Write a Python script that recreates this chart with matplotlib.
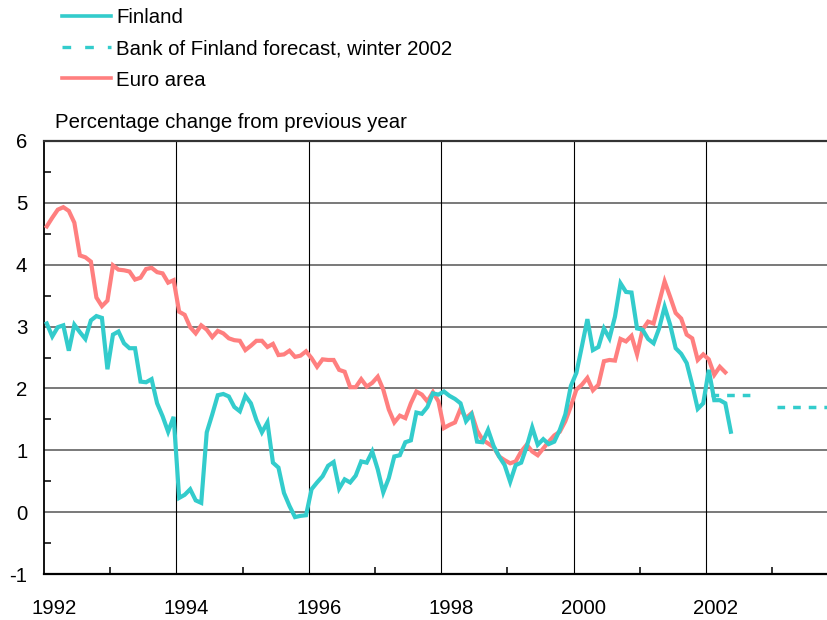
import matplotlib
matplotlib.use('Agg')
import matplotlib.pyplot as plt
from matplotlib.lines import Line2D
from matplotlib.ticker import MultipleLocator, FixedLocator
from matplotlib.transforms import ScaledTranslation
import numpy as np

plt.rcParams['font.family'] = 'Liberation Sans'
plt.rcParams['axes.unicode_minus'] = False

# Monthly inflation, % change from previous year, Jan 1992 ->
finland = [
    3.05, 2.84, 2.99, 3.02, 2.61, 3.03, 2.91, 2.80, 3.10, 3.17, 3.14, 2.31,
    2.87, 2.92, 2.73, 2.65, 2.65, 2.11, 2.10, 2.15, 1.76, 1.55, 1.30, 1.54,
    0.23, 0.28, 0.37, 0.19, 0.15, 1.29, 1.58, 1.89, 1.91, 1.87, 1.70, 1.63,
    1.88, 1.76, 1.49, 1.29, 1.45, 0.80, 0.72, 0.31, 0.10, -0.08, -0.06, -0.05,
    0.37, 0.48, 0.58, 0.75, 0.81, 0.38, 0.53, 0.48, 0.59, 0.82, 0.80, 0.98,
    0.69, 0.32, 0.55, 0.90, 0.92, 1.13, 1.16, 1.61, 1.59, 1.70, 1.92, 1.90,
    1.95, 1.88, 1.83, 1.76, 1.47, 1.58, 1.14, 1.13, 1.33, 1.07, 0.90, 0.76,
    0.49, 0.76, 0.80, 1.06, 1.37, 1.09, 1.18, 1.10, 1.14, 1.33, 1.58, 2.04,
    2.25, 2.68, 3.12, 2.62, 2.67, 2.97, 2.81, 3.16, 3.70, 3.56, 3.55, 2.97,
    2.95, 2.80, 2.73, 2.97, 3.32, 3.03, 2.65, 2.56, 2.41, 2.06, 1.67, 1.76,
    2.30, 1.81, 1.81, 1.76, 1.30,
]
euro = [
    4.62, 4.76, 4.89, 4.93, 4.87, 4.68, 4.15, 4.12, 4.05, 3.47, 3.33, 3.42,
    3.99, 3.92, 3.91, 3.89, 3.76, 3.79, 3.93, 3.95, 3.88, 3.86, 3.71, 3.75,
    3.24, 3.19, 2.99, 2.89, 3.02, 2.95, 2.83, 2.93, 2.89, 2.81, 2.78, 2.77,
    2.62, 2.69, 2.77, 2.77, 2.67, 2.72, 2.54, 2.55, 2.61, 2.51, 2.53, 2.60,
    2.49, 2.35, 2.47, 2.46, 2.46, 2.30, 2.27, 2.02, 2.02, 2.15, 2.03, 2.09,
    2.19, 1.98, 1.66, 1.45, 1.56, 1.52, 1.76, 1.95, 1.90, 1.79, 1.94, 1.79,
    1.36, 1.41, 1.45, 1.67, 1.52, 1.60, 1.32, 1.17, 1.11, 1.05, 0.90, 0.84,
    0.79, 0.82, 0.98, 1.09, 0.98, 0.92, 1.03, 1.14, 1.24, 1.30, 1.47, 1.71,
    1.98, 2.06, 2.17, 1.97, 2.06, 2.44, 2.46, 2.45, 2.80, 2.76, 2.85, 2.55,
    2.95, 3.08, 3.05, 3.39, 3.73, 3.48, 3.22, 3.13, 2.87, 2.81, 2.46, 2.55,
    2.47, 2.22, 2.35, 2.26,
]

# Bank of Finland forecast (annual averages, drawn as flat segments)
fc_value = [1.9, 1.7]
fc_start = [2002.08, 2003.07]
fc_end = [2002.72, 2004.0]

year_labels = ['1992', '1994', '1996', '1998', '2000', '2002']

TEAL = '#33CCCC'
PINK = '#FF7F7F'

fi_x = 1992 + (np.arange(len(finland)) + 0.5) / 12
eu_x = 1992 + (np.arange(len(euro)) + 0.5) / 12

W, H = 827, 620
fig = plt.figure(figsize=(W / 100, H / 100), dpi=100)
ax = fig.add_axes([44 / W, 46 / H, (W - 44) / W, (574 - 141) / H])

x_right = 1992 + (W - 44) / 66.2
ax.set_xlim(1992, x_right)
ax.set_ylim(-1, 6)

# grid
for y in range(-1, 7):
    ax.axhline(y, color='#555555', lw=1.1, zorder=1)
for yr in range(1994, 2004, 2):
    ax.axvline(yr, color='black', lw=0.8, zorder=1)

ax.plot(eu_x, euro, color=PINK, lw=3.0, solid_joinstyle='miter', zorder=3)
ax.plot(fi_x, finland, color=TEAL, lw=3.0, solid_joinstyle='miter', zorder=4)
for v, a, b in zip(fc_value, fc_start, fc_end):
    ax.plot([a, b], [v, v], color=TEAL, lw=2.5, linestyle=(0, (2.2, 2.3)),
            dash_capstyle='butt', zorder=4)

# axes frame
for s in ['left', 'top', 'bottom']:
    ax.spines[s].set_color('black')
ax.spines['left'].set_linewidth(1.3)
ax.spines['bottom'].set_linewidth(1.6)
ax.spines['top'].set_linewidth(1.6)
ax.spines['top'].set_color('#333333')
ax.spines['right'].set_visible(False)

ax.xaxis.set_major_locator(FixedLocator([1992, 1994, 1996, 1998, 2000, 2002]))
ax.set_xticklabels(year_labels)
ax.xaxis.set_minor_locator(FixedLocator([1993, 1995, 1997, 1999, 2001, 2003]))
ax.yaxis.set_major_locator(MultipleLocator(1))
ax.yaxis.set_minor_locator(MultipleLocator(0.5))
ax.tick_params(axis='both', which='major', length=0, labelsize=14.7, colors='black')
ax.tick_params(axis='x', which='major', pad=18)
ax.tick_params(axis='y', which='major', pad=12)
ax.tick_params(axis='both', which='minor', direction='in', length=5, width=1.1)

shift = ScaledTranslation(10 / 100, 0, fig.dpi_scale_trans)
for lab in ax.get_xticklabels():
    lab.set_transform(lab.get_transform() + shift)

fig.text(55 / W, 1 - 122 / H, 'Percentage change from previous year',
         fontsize=14.7, va='center', ha='left')

# legend
handles = [
    Line2D([], [], color=TEAL, lw=2.6),
    Line2D([], [], color=TEAL, lw=2.4, linestyle=(0, (2.6, 4.2))),
    Line2D([], [], color=PINK, lw=2.6),
]
labels = ['Finland', 'Bank of Finland forecast, winter 2002', 'Euro area']
fig.legend(handles, labels, loc='upper left', bbox_to_anchor=(62 / W, 1 - 8 / H),
           frameon=False, fontsize=14.7, handlelength=2.4, handletextpad=0.25,
           labelspacing=0.6, borderpad=0, borderaxespad=0)

fig.savefig('out.png', dpi=100)
